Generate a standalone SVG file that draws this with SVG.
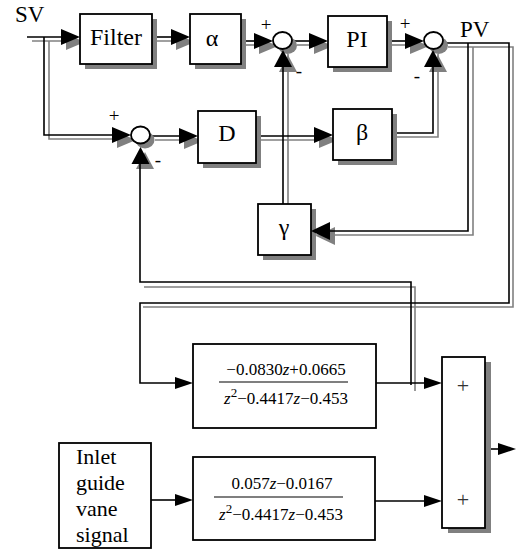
<svg xmlns="http://www.w3.org/2000/svg" width="516" height="551" viewBox="0 0 516 551">
<style>
.w{fill:none;stroke:#000;stroke-width:1.6}
.g{fill:none;stroke:#808080;stroke-width:1.6}
.sh{fill:#808080;stroke:none}
.bx{fill:#fff;stroke:#000;stroke-width:1.8}
.ah{fill:#000;stroke:none}
.lb{font-family:"Liberation Serif","Times New Roman",serif;font-size:24px;fill:#000;text-anchor:middle}
.tf{font-family:"Liberation Serif","Times New Roman",serif;font-size:17px;fill:#000;text-anchor:middle}
.sg{font-family:"Liberation Serif","Times New Roman",serif;font-size:19px;fill:#000;text-anchor:middle}
.pl{font-family:"Liberation Serif","Times New Roman",serif;font-size:22px;fill:#333;text-anchor:middle}
.tx{font-family:"Liberation Serif","Times New Roman",serif;font-size:22px;fill:#000}
.io{font-family:"Liberation Serif","Times New Roman",serif;font-size:23px;fill:#000}
</style>
<defs>
<polygon id="ar" points="0,0 -19,-8 -19,8"/>
<polygon id="ars" points="0,0 -18,-6 -18,6"/>
<polygon id="au" points="0,0 -9,17 9,17"/>
<polygon id="al" points="0,0 19,-9 19,9"/>
</defs>
<rect width="516" height="551" fill="#fff"/>

<g id="connectors">
  <g class="g">
    <path d="M32,41 H80"/>
    <path d="M49,41 V139 H131"/>
    <path d="M157,41 H190"/>
    <path d="M246,45 H273"/>
    <path d="M297,45 H328"/>
    <path d="M392,45 H424"/>
    <path d="M448,47 H513 V307 H143"/>
    <path d="M473,47 V235 H316"/>
    <path d="M155,140 H198"/>
    <path d="M261,140 H333"/>
    <path d="M397,137 H438 V54"/>
    <path d="M288,212 V54"/>
    <path d="M415,391 V287 H144"/>
  </g>
  <g class="sh">
    <use href="#ar" x="85" y="42"/>
    <use href="#ar" x="195" y="42"/>
    <use href="#ar" x="278" y="46"/>
    <use href="#ar" x="333" y="46"/>
    <use href="#ar" x="429" y="46"/>
    <use href="#ar" x="136" y="140"/>
    <use href="#ar" x="203" y="141"/>
    <use href="#ar" x="338" y="140"/>
    <use href="#au" x="288" y="55"/>
    <use href="#au" x="438" y="55"/>
    <use href="#au" x="145" y="152"/>
    <use href="#al" x="316" y="236"/>
  </g>
  <g class="w">
    <path d="M27,37 H70"/>
    <path d="M44,37 V135 H120"/>
    <path d="M152,37 H180"/>
    <path d="M241,41 H262"/>
    <path d="M292,41 H318"/>
    <path d="M387,41 H414"/>
    <path d="M443,43 H509 V303 H140 V383 H180"/>
    <path d="M468,43 V231 H320"/>
    <path d="M150,136 H188"/>
    <path d="M256,136 H322"/>
    <path d="M392,133 H433 V60"/>
    <path d="M283,204 V60"/>
    <path d="M411,385 V282 H140 V157"/>
    <path d="M376,383 H430"/>
    <path d="M151,500 H180"/>
    <path d="M375,501 H430"/>
    <path d="M491,449 H505"/>
  </g>
</g>

<g class="sh">
  <rect x="85" y="19" width="72" height="50"/>
  <rect x="195" y="19" width="51" height="50"/>
  <rect x="333" y="21" width="59" height="51"/>
  <rect x="203" y="116" width="58" height="52"/>
  <rect x="338" y="114" width="59" height="51"/>
  <rect x="263" y="209" width="53" height="51"/>
  <rect x="448" y="362" width="43" height="171"/>
  <ellipse cx="287.5" cy="45.5" rx="9.5" ry="8.5"/>
  <ellipse cx="438.5" cy="45.5" rx="9.5" ry="8.5"/>
  <ellipse cx="145" cy="140" rx="9.5" ry="8.5"/>
</g>

<g id="filter"><rect class="bx" x="80" y="14" width="72" height="50"/><text class="lb" x="116" y="45">Filter</text></g>
<g id="alpha"><rect class="bx" x="190" y="14" width="51" height="50"/><text class="lb" x="212" y="46">α</text></g>
<g id="sum1"><ellipse class="bx" cx="282.5" cy="40.5" rx="9.5" ry="8.5"/><text class="sg" x="266" y="31">+</text><text class="sg" x="299" y="77">-</text></g>
<g id="pi"><rect class="bx" x="328" y="16" width="59" height="51"/><text class="lb" x="357" y="47">PI</text></g>
<g id="sum2"><ellipse class="bx" cx="433.5" cy="40.5" rx="9.5" ry="8.5"/><text class="sg" x="405" y="30">+</text><text class="sg" x="417" y="82">-</text></g>
<g id="sumD"><ellipse class="bx" cx="140.5" cy="135" rx="9.5" ry="8.5"/><text class="sg" x="114" y="122">+</text><text class="sg" x="158" y="166">-</text></g>
<g id="d"><rect class="bx" x="198" y="111" width="58" height="52"/><text class="lb" x="227" y="141">D</text></g>
<g id="beta"><rect class="bx" x="333" y="109" width="59" height="51"/><text class="lb" x="362" y="140">β</text></g>
<g id="gamma"><rect class="bx" x="258" y="204" width="53" height="51"/><text class="lb" x="284" y="235">γ</text></g>
<g id="tf1"><rect class="bx" x="193" y="344" width="183" height="84"/>
  <text class="tf" x="286" y="375">−0.0830<tspan font-style="italic">z</tspan>+0.0665</text>
  <line x1="219" y1="382" x2="348" y2="382" stroke="#000" stroke-width="1.2"/>
  <text class="tf" x="286" y="404"><tspan font-style="italic">z</tspan><tspan dy="-7" font-size="13">2</tspan><tspan dy="7">−0.4417</tspan><tspan font-style="italic">z</tspan>−0.453</text>
</g>
<g id="tf2"><rect class="bx" x="193" y="457" width="182" height="83"/>
  <text class="tf" x="282" y="489">0.057<tspan font-style="italic">z</tspan>−0.0167</text>
  <line x1="214" y1="497" x2="343" y2="497" stroke="#000" stroke-width="1.2"/>
  <text class="tf" x="281" y="520"><tspan font-style="italic">z</tspan><tspan dy="-7" font-size="13">2</tspan><tspan dy="7">−0.4417</tspan><tspan font-style="italic">z</tspan>−0.453</text>
</g>
<g id="inlet"><rect class="bx" x="59" y="443" width="92" height="105"/>
  <text class="tx" x="76" y="464">Inlet</text>
  <text class="tx" x="76" y="490">guide</text>
  <text class="tx" x="76" y="516">vane</text>
  <text class="tx" x="76" y="542">signal</text>
</g>
<g id="sumbox"><rect class="bx" x="442" y="357" width="43" height="171"/>
  <text class="pl" x="463" y="393">+</text>
  <text class="pl" x="463" y="507">+</text>
</g>

<g class="ah">
  <use href="#ar" x="80" y="37"/>
  <use href="#ar" x="190" y="37"/>
  <use href="#ar" x="273" y="41"/>
  <use href="#ar" x="328" y="41"/>
  <use href="#ar" x="424" y="41"/>
  <use href="#ar" x="131" y="135"/>
  <use href="#ar" x="198" y="136"/>
  <use href="#ar" x="333" y="135"/>
  <use href="#au" x="283" y="50"/>
  <use href="#au" x="433" y="50"/>
  <use href="#au" x="140.5" y="147"/>
  <use href="#al" x="311" y="231"/>
  <use href="#ars" x="193" y="383"/>
  <use href="#ars" x="442" y="383"/>
  <use href="#ars" x="193" y="500"/>
  <use href="#ars" x="442" y="501"/>
  <use href="#ars" x="516" y="449"/>
</g>

<text class="io" x="15" y="22">SV</text>
<text class="io" x="460" y="37">PV</text>
</svg>
